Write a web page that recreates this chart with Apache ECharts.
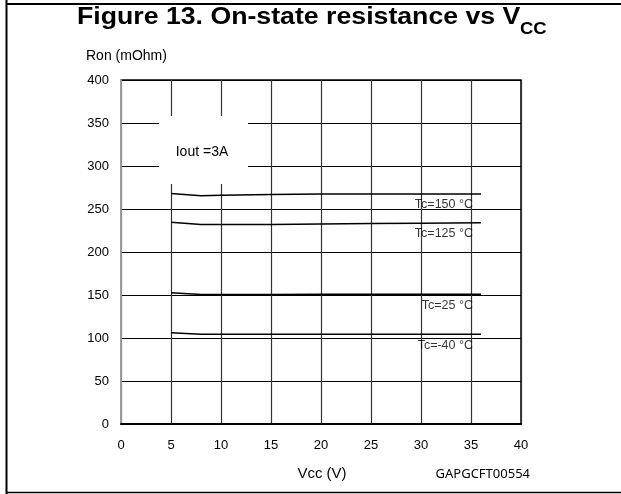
<!DOCTYPE html>
<html>
<head>
<meta charset="utf-8">
<script src="https://cdn.jsdelivr.net/npm/echarts@6/dist/echarts.min.js"></script>
<style>
html,body{margin:0;padding:0;background:#fff;}
#chart{width:621px;height:494px;}
</style>
</head>
<body>
<div id="chart"></div>
<script>
const vcc = [5, 8, 10, 15, 20, 25, 30, 36];
const ron150 = [268, 265.5, 266, 267, 267.5, 267.5, 267.5, 267.5];
const ron125 = [234.5, 232, 232, 232, 232.5, 233, 233.5, 234];
const ron25 = [152.7, 150.5, 150.5, 150.7, 151, 151, 151, 151];
const ronM40 = [106.2, 104.5, 104.5, 104.5, 104.4, 104.3, 104.3, 104.3];
const seriesNames = ['Tc=150 °C', 'Tc=125 °C', 'Tc=25 °C', 'Tc=-40 °C'];
const seriesData = [ron150, ron125, ron25, ronM40];
const xTicks = [0, 5, 10, 15, 20, 25, 30, 35, 40];
const yTicks = [0, 50, 100, 150, 200, 250, 300, 350, 400];

const F = '"Liberation Sans", Arial, sans-serif';
const chart = echarts.init(document.getElementById('chart'), null, {renderer: 'canvas'});

const lineSeries = seriesData.map((d, i) => ({
  type: 'line',
  name: seriesNames[i],
  data: vcc.map((x, k) => [x, d[k]]),
  showSymbol: false,
  symbol: 'none',
  lineStyle: {color: '#000', width: 1.5},
  z: 5,
  silent: true
}));
const labelSeries = {
  type: 'scatter',
  symbolSize: 0,
  silent: true,
  z: 6,
  data: seriesData.map((d, i) => ({
    value: [vcc[vcc.length - 1], d[d.length - 1]],
    name: seriesNames[i]
  })),
  label: {
    show: true,
    position: 'inside',
    align: 'right',
    verticalAlign: 'middle',
    offset: [-8, 11],
    formatter: p => p.name,
    color: '#000',
    fontFamily: F,
    fontSize: 12.5
  }
};

chart.setOption({
  animation: false,
  backgroundColor: '#fff',
  grid: {left: 121, right: 100, top: 80, bottom: 70, show: true, borderColor: '#000', borderWidth: 1.5, backgroundColor: 'transparent'},
  xAxis: {
    type: 'value', min: 0, max: 40, interval: 5,
    axisLine: {show: true, lineStyle: {color: '#000', width: 2}},
    axisTick: {show: false},
    axisLabel: {color: '#000', fontFamily: F, fontSize: 13, margin: 15,
      formatter: v => xTicks.includes(v) ? String(v) : ''},
    splitLine: {show: true, lineStyle: {color: '#333', width: 1.2}}
  },
  yAxis: {
    type: 'value', min: 0, max: 400, interval: 50,
    axisLine: {show: true, lineStyle: {color: '#999', width: 2}},
    axisTick: {show: false},
    axisLabel: {color: '#000', fontFamily: F, fontSize: 13, margin: 12,
      formatter: v => yTicks.includes(v) ? String(v) : ''},
    splitLine: {show: true, lineStyle: {color: '#000', width: 1}}
  },
  series: [...lineSeries, labelSeries],
  graphic: [
    {type: 'line', shape: {x1: 6.5, y1: 0, x2: 6.5, y2: 494}, style: {stroke: '#000', lineWidth: 2}},
    {type: 'line', shape: {x1: 6, y1: 4, x2: 621, y2: 4}, style: {stroke: '#000', lineWidth: 2}},
    {type: 'line', shape: {x1: 6, y1: 492.5, x2: 621, y2: 492.5}, style: {stroke: '#000', lineWidth: 1.5}},
    {type: 'text', x: 77, y: 18, scaleX: 1.16, z: 20, style: {text: 'Figure 13. On-state resistance vs V', font: 'bold 23px ' + F, fill: '#000', align: 'left', verticalAlign: 'middle'}},
    {type: 'text', x: 520, y: 30, scaleX: 1.15, z: 20, style: {text: 'CC', font: 'bold 16px ' + F, fill: '#000', align: 'left', verticalAlign: 'middle'}},
    {type: 'text', x: 86, y: 56, z: 20, style: {text: 'Ron (mOhm)', font: '14px ' + F, fill: '#000', align: 'left', verticalAlign: 'middle'}},
    {type: 'rect', z: 10, shape: {x: 159, y: 116, width: 89, height: 68}, style: {fill: '#fff'}},
    {type: 'text', x: 202, y: 152, z: 20, style: {text: 'Iout =3A', font: '14px ' + F, fill: '#000', align: 'center', verticalAlign: 'middle'}},
    {type: 'text', x: 322, y: 474, z: 20, style: {text: 'Vcc (V)', font: '15px ' + F, fill: '#000', align: 'center', verticalAlign: 'middle'}},
    {type: 'text', x: 530, y: 474, z: 20, style: {text: 'GAPGCFT00554', font: '13px "Noto Sans", sans-serif', fill: '#000', align: 'right', verticalAlign: 'middle'}}
  ]
});
</script>
</body>
</html>
